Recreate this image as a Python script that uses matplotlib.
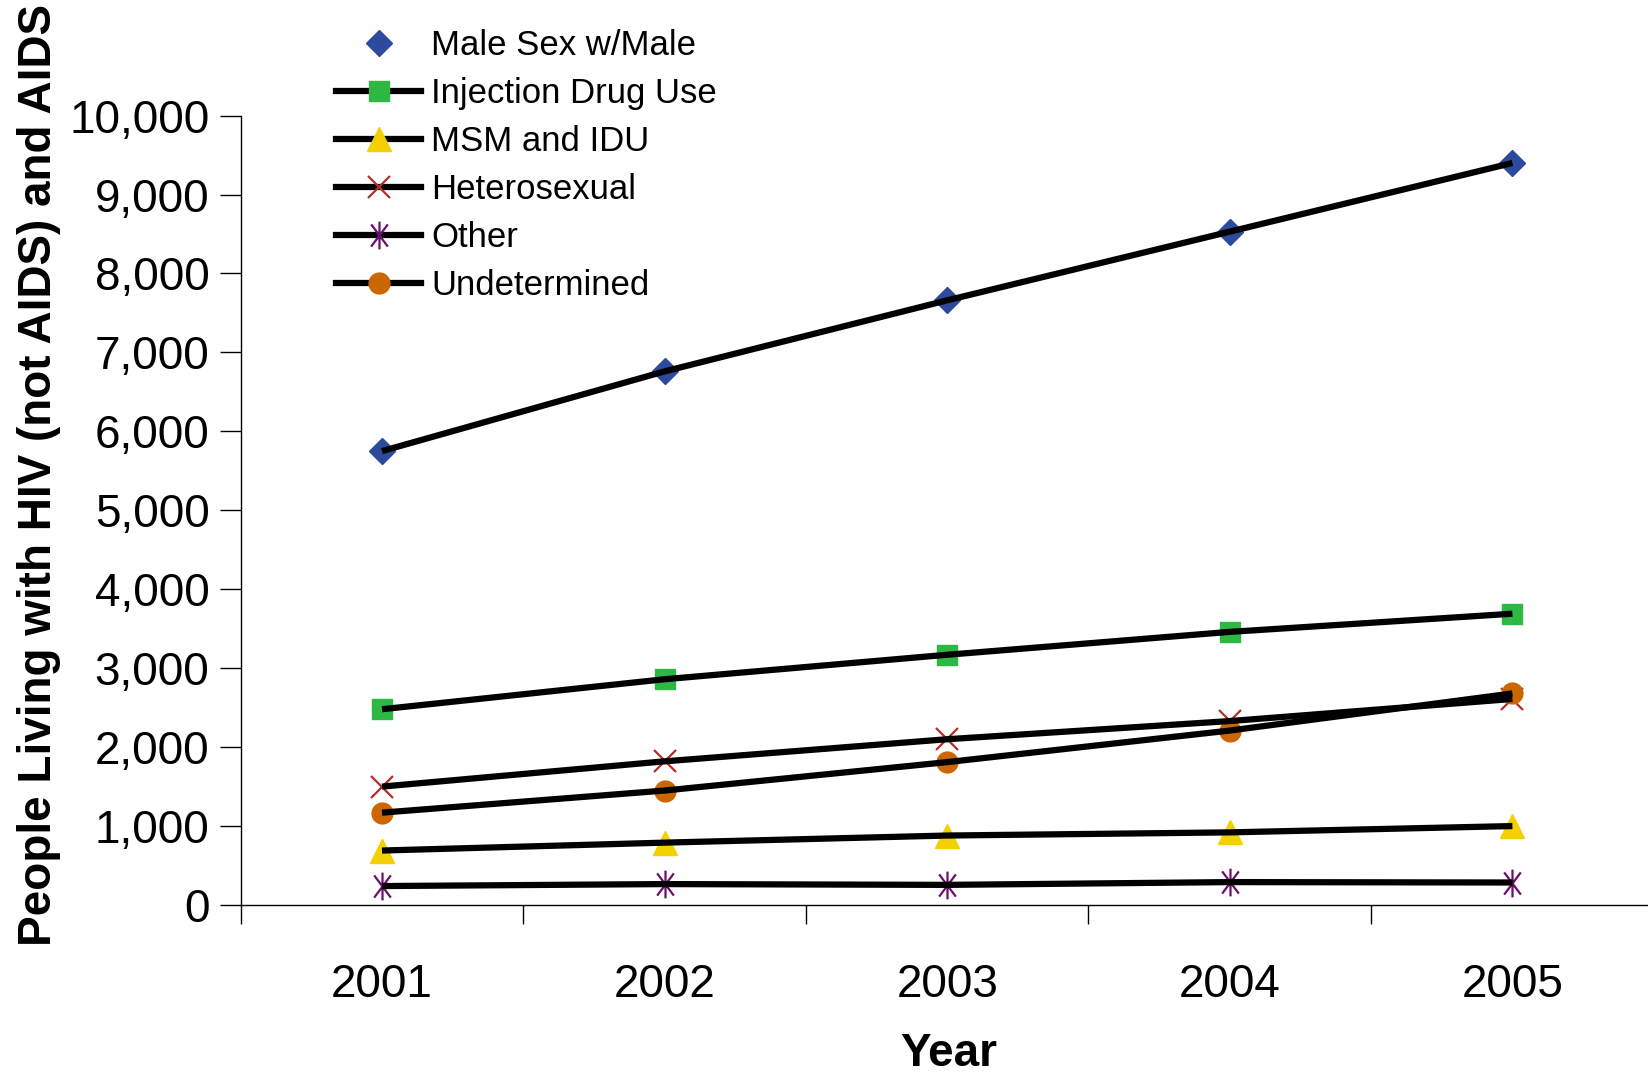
import matplotlib
matplotlib.use('Agg')
import matplotlib.pyplot as plt
from matplotlib.lines import Line2D
from matplotlib.path import Path

# Data
years = ['2001', '2002', '2003', '2004', '2005']
male_sex_male = [5750, 6760, 7660, 8530, 9400]
injection_drug_use = [2480, 2860, 3170, 3460, 3690]
msm_and_idu = [690, 790, 880, 920, 1000]
heterosexual = [1500, 1820, 2100, 2330, 2610]
other = [240, 265, 255, 290, 285]
undetermined = [1170, 1450, 1810, 2210, 2680]

plt.rcParams['font.family'] = ['Liberation Sans', 'DejaVu Sans']

# Asterisk marker: vertical stroke plus an X
star = Path([(0, -1), (0, 1), (-0.6, -0.8), (0.6, 0.8), (-0.6, 0.8), (0.6, -0.8)],
            [Path.MOVETO, Path.LINETO, Path.MOVETO, Path.LINETO, Path.MOVETO, Path.LINETO])

series = [
    ('Male Sex w/Male', male_sex_male, dict(marker='D', ms=13, mfc='#2E4A9E', mec='#2E4A9E')),
    ('Injection Drug Use', injection_drug_use, dict(marker='s', ms=15, mfc='#2DB843', mec='#2DB843')),
    ('MSM and IDU', msm_and_idu, dict(marker='^', ms=17, mfc='#F5D000', mec='#F5D000')),
    ('Heterosexual', heterosexual, dict(marker='x', ms=16, mew=1.6, mec='#B0302A')),
    ('Other', other, dict(marker=star, ms=20, mew=1.6, mfc='none', mec='#6A0F6A')),
    ('Undetermined', undetermined, dict(marker='o', ms=15, mfc='#CC6600', mec='#CC6600')),
]

fig = plt.figure(figsize=(16.48, 10.76), dpi=100)
ax = fig.add_axes([240.7 / 1648, 1 - 905 / 1076, 1413 / 1648, (905 - 115.6) / 1076])

x = list(range(len(years)))
handles = []
for name, vals, style in series:
    ax.plot(x, vals, linestyle='none', zorder=2, **style)
    ax.plot(x, vals, color='black', lw=4.5, zorder=3, solid_capstyle='butt')
    if name == 'Male Sex w/Male':
        handles.append(Line2D([], [], linestyle='none', label=name, **style))
    else:
        handles.append(Line2D([], [], color='black', lw=4.5, label=name, **style))

ax.set_xlim(-0.5, 4.5)
ax.set_ylim(0, 10000)
ax.set_yticks(range(0, 10001, 1000))
ax.set_yticklabels([f'{v:,}' for v in range(0, 10001, 1000)], fontsize=33)
ax.set_xticks([i - 0.5 for i in range(6)])
ax.set_xticklabels([])
ax.set_xticks(x, minor=True)
ax.set_xticklabels(years, minor=True, fontsize=33)
ax.tick_params(axis='x', which='major', length=14, width=1)
ax.tick_params(axis='x', which='minor', length=0, pad=42)
ax.tick_params(axis='y', length=15, width=1, pad=7.5)

for s in ['top', 'right']:
    ax.spines[s].set_visible(False)
for s in ['left', 'bottom']:
    ax.spines[s].set_linewidth(1)

fig.text(39 / 1648, 1 - 475 / 1076, 'People Living with HIV (not AIDS) and AIDS',
         rotation=90, ha='center', va='center', fontsize=33, fontweight='bold')
fig.text(949 / 1648, 1 - 1054 / 1076, 'Year', ha='center', va='center',
         fontsize=33, fontweight='bold')

fig.legend(handles=handles, loc='upper left', bbox_to_anchor=(336 / 1648, 1 - 29 / 1076),
           frameon=False, fontsize=25, handlelength=2.45, handletextpad=0.3,
           labelspacing=0.43, borderaxespad=0, borderpad=0)

fig.savefig('out.png', dpi=100)
